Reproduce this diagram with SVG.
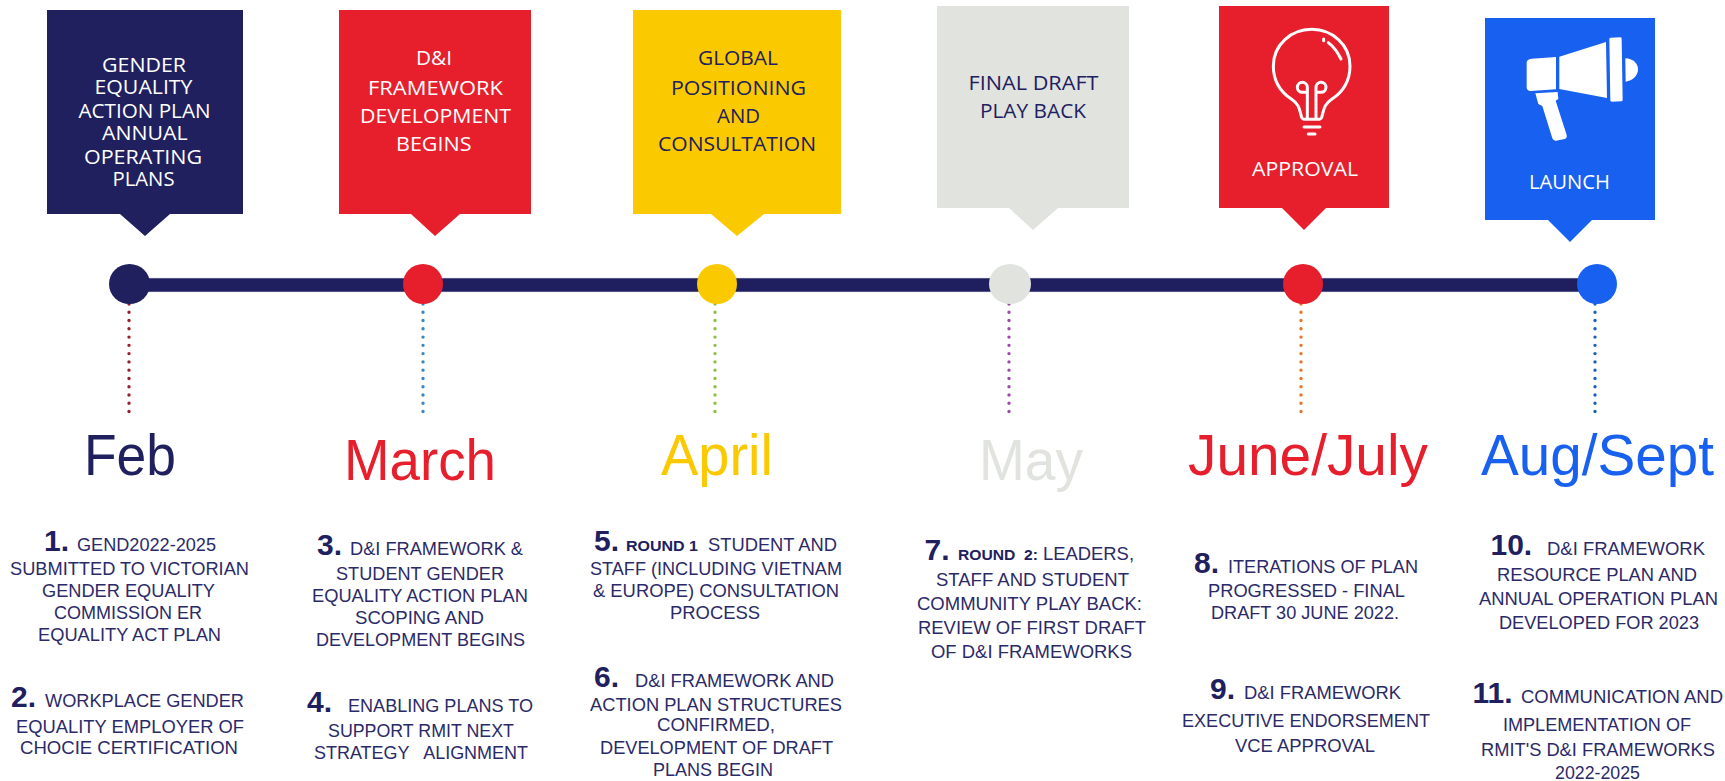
<svg xmlns="http://www.w3.org/2000/svg" width="1725" height="781" viewBox="0 0 1725 781">
<style>
text{white-space:pre}
.b{font-family:"Open Sans","Noto Sans",sans-serif;font-size:20.5px}
.w{fill:#ffffff}
.n{fill:#21205f}
.m{font-family:"Liberation Sans",Arial,sans-serif;font-size:57px}
.t{font-family:"Liberation Sans",Arial,sans-serif;font-size:18px;fill:#2b2a68}
.h{font-family:"Liberation Sans",Arial,sans-serif;font-size:30px;font-weight:700;fill:#21205f}
.r{font-family:"Liberation Sans",Arial,sans-serif;font-size:15px;font-weight:700;fill:#21205f}
.d{fill:none;stroke-width:3.4;stroke-linecap:round;stroke-dasharray:0 8.27}
.ic{fill:none;stroke:#ffffff;stroke-width:9;stroke-linecap:round;stroke-linejoin:round}
</style>
<g id="connectors">
<rect x="140" y="278.3" width="1450" height="13.4" fill="#1f1f60" stroke="#4f4f88" stroke-width="0.7"/>
<path class="d" stroke="#9b1c2e" d="M129 304V414"/>
<path class="d" stroke="#3a86c8" d="M423 304V414"/>
<path class="d" stroke="#8cc04a" d="M715 304V414"/>
<path class="d" stroke="#9b4aa8" d="M1009 304V414"/>
<path class="d" stroke="#ea7326" d="M1301 304V414"/>
<path class="d" stroke="#1f5fb8" d="M1595 304V414"/>
</g>
<g id="feb">
<path fill="#21205f" d="M47 10H243V214H170L145 236L120 214H47Z"/>
<g class="b w">
<text x="102" y="72" textLength="84" lengthAdjust="spacingAndGlyphs">GENDER</text>
<text x="94.5" y="94" textLength="98" lengthAdjust="spacingAndGlyphs">EQUALITY</text>
<text x="78.5" y="118" textLength="132" lengthAdjust="spacingAndGlyphs">ACTION PLAN</text>
<text x="102" y="140" textLength="85.5" lengthAdjust="spacingAndGlyphs">ANNUAL</text>
<text x="84" y="164" textLength="118" lengthAdjust="spacingAndGlyphs">OPERATING</text>
<text x="112.5" y="186" textLength="62" lengthAdjust="spacingAndGlyphs">PLANS</text>
</g>
<ellipse cx="129.5" cy="284" rx="20.5" ry="20" fill="#21205f"/>
<text class="m" x="84" y="475" fill="#21205f" textLength="92" lengthAdjust="spacingAndGlyphs">Feb</text>
<g id="item-1">
<text class="h" x="44" y="551">1.</text>
<text class="t" x="77" y="551" textLength="139" lengthAdjust="spacingAndGlyphs">GEND2022-2025</text>
<text class="t" x="10" y="575" textLength="239" lengthAdjust="spacingAndGlyphs">SUBMITTED TO VICTORIAN</text>
<text class="t" x="42" y="597" textLength="173" lengthAdjust="spacingAndGlyphs">GENDER EQUALITY</text>
<text class="t" x="54" y="619" textLength="148" lengthAdjust="spacingAndGlyphs">COMMISSION ER</text>
<text class="t" x="38" y="641" textLength="183" lengthAdjust="spacingAndGlyphs">EQUALITY ACT PLAN</text>
</g>
<g id="item-2">
<text class="h" x="11" y="707">2.</text>
<text class="t" x="45" y="707" textLength="199" lengthAdjust="spacingAndGlyphs">WORKPLACE GENDER</text>
<text class="t" x="16" y="733" textLength="228" lengthAdjust="spacingAndGlyphs">EQUALITY EMPLOYER OF</text>
<text class="t" x="20" y="754" textLength="218" lengthAdjust="spacingAndGlyphs">CHOCIE CERTIFICATION</text>
</g>
</g>
<g id="march">
<path fill="#e71f2c" d="M339 10H531V214H460L435 236L411 214H339Z"/>
<g class="b w">
<text x="416" y="65" textLength="36" lengthAdjust="spacingAndGlyphs">D&amp;I</text>
<text x="368" y="95" textLength="135" lengthAdjust="spacingAndGlyphs">FRAMEWORK</text>
<text x="360" y="123" textLength="151" lengthAdjust="spacingAndGlyphs">DEVELOPMENT</text>
<text x="396" y="151" textLength="75.5" lengthAdjust="spacingAndGlyphs">BEGINS</text>
</g>
<ellipse cx="423" cy="284" rx="20" ry="20" fill="#e71f2c"/>
<text class="m" x="344" y="480" fill="#e71f2c" textLength="152" lengthAdjust="spacingAndGlyphs">March</text>
<g id="item-3">
<text class="h" x="317" y="555">3.</text>
<text class="t" x="350" y="555" textLength="173" lengthAdjust="spacingAndGlyphs">D&amp;I FRAMEWORK &amp;</text>
<text class="t" x="336" y="580" textLength="168" lengthAdjust="spacingAndGlyphs">STUDENT GENDER</text>
<text class="t" x="312" y="602" textLength="216" lengthAdjust="spacingAndGlyphs">EQUALITY ACTION PLAN</text>
<text class="t" x="355" y="624" textLength="129" lengthAdjust="spacingAndGlyphs">SCOPING AND</text>
<text class="t" x="316" y="646" textLength="209" lengthAdjust="spacingAndGlyphs">DEVELOPMENT BEGINS</text>
</g>
<g id="item-4">
<text class="h" x="307" y="712">4.</text>
<text class="t" x="348" y="712" textLength="185" lengthAdjust="spacingAndGlyphs">ENABLING PLANS TO</text>
<text class="t" x="328" y="737" textLength="186" lengthAdjust="spacingAndGlyphs">SUPPORT RMIT NEXT</text>
<text class="t" x="314" y="759" textLength="214" lengthAdjust="spacingAndGlyphs">STRATEGY   ALIGNMENT</text>
</g>
</g>
<g id="april">
<path fill="#fbc900" d="M633 10H841V214H764L737 236L711 214H633Z"/>
<g class="b n">
<text x="698" y="65" textLength="80" lengthAdjust="spacingAndGlyphs">GLOBAL</text>
<text x="671" y="95" textLength="135" lengthAdjust="spacingAndGlyphs">POSITIONING</text>
<text x="717" y="123" textLength="43" lengthAdjust="spacingAndGlyphs">AND</text>
<text x="658" y="151" textLength="158" lengthAdjust="spacingAndGlyphs">CONSULTATION</text>
</g>
<ellipse cx="717" cy="284" rx="20" ry="20" fill="#fbc900"/>
<text class="m" x="661" y="475" fill="#fbc900" textLength="112" lengthAdjust="spacingAndGlyphs">April</text>
<g id="item-5">
<text class="h" x="594" y="551">5.</text>
<text class="r" x="626" y="551" textLength="72" lengthAdjust="spacingAndGlyphs">ROUND 1</text>
<text class="t" x="708" y="551" textLength="129" lengthAdjust="spacingAndGlyphs">STUDENT AND</text>
<text class="t" x="590" y="575" textLength="252" lengthAdjust="spacingAndGlyphs">STAFF (INCLUDING VIETNAM</text>
<text class="t" x="593" y="597" textLength="246" lengthAdjust="spacingAndGlyphs">&amp; EUROPE) CONSULTATION</text>
<text class="t" x="670" y="619" textLength="90" lengthAdjust="spacingAndGlyphs">PROCESS</text>
</g>
<g id="item-6">
<text class="h" x="594" y="687">6.</text>
<text class="t" x="635" y="687" textLength="199" lengthAdjust="spacingAndGlyphs">D&amp;I FRAMEWORK AND</text>
<text class="t" x="590" y="711" textLength="252" lengthAdjust="spacingAndGlyphs">ACTION PLAN STRUCTURES</text>
<text class="t" x="657" y="731" textLength="118" lengthAdjust="spacingAndGlyphs">CONFIRMED,</text>
<text class="t" x="600" y="754" textLength="233" lengthAdjust="spacingAndGlyphs">DEVELOPMENT OF DRAFT</text>
<text class="t" x="653" y="776" textLength="120" lengthAdjust="spacingAndGlyphs">PLANS BEGIN</text>
</g>
</g>
<g id="may">
<path fill="#e1e3df" d="M937 6H1129V208H1058L1033 230L1009 208H937Z"/>
<g class="b n">
<text x="968.5" y="90" textLength="130" lengthAdjust="spacingAndGlyphs">FINAL DRAFT</text>
<text x="980" y="118" textLength="106" lengthAdjust="spacingAndGlyphs">PLAY BACK</text>
</g>
<ellipse cx="1010" cy="284" rx="21" ry="20" fill="#e1e3df"/>
<text class="m" x="979" y="480" fill="#e1e3df" textLength="104" lengthAdjust="spacingAndGlyphs">May</text>
<g id="item-7">
<text class="h" x="924.5" y="560">7.</text>
<text class="r" x="958" y="560" textLength="80" lengthAdjust="spacingAndGlyphs">ROUND  2:</text>
<text class="t" x="1043" y="560" textLength="91" lengthAdjust="spacingAndGlyphs">LEADERS,</text>
<text class="t" x="936" y="586" textLength="193" lengthAdjust="spacingAndGlyphs">STAFF AND STUDENT</text>
<text class="t" x="917" y="610" textLength="225" lengthAdjust="spacingAndGlyphs">COMMUNITY PLAY BACK:</text>
<text class="t" x="918" y="634" textLength="228" lengthAdjust="spacingAndGlyphs">REVIEW OF FIRST DRAFT</text>
<text class="t" x="931" y="658" textLength="201" lengthAdjust="spacingAndGlyphs">OF D&amp;I FRAMEWORKS</text>
</g>
</g>
<g id="june-july">
<path fill="#e71f2c" d="M1219 6H1389V208H1326L1304 230L1282 208H1219Z"/>
<g transform="translate(1250 10) scale(0.3333)">
<path class="ic" d="M155 322C148 300 150 285 125 268C90 245 70 210 70 168C70 105 122 58 185 58C248 58 300 105 300 168C300 210 280 245 245 268C220 285 222 300 215 322Q212 328 205 328H165Q158 328 155 322Z"/>
<path class="ic" d="M172 325V232A15 15 0 1 0 157 247H172M198 325V232A15 15 0 1 1 213 247H198"/>
<path class="ic" d="M235 98Q258 116 273 147M221 87V92"/>
<path class="ic" d="M162 351H210" stroke-width="6"/>
<path class="ic" d="M175 372H195" stroke-width="10"/>
</g>
<text class="b w" x="1252" y="176" textLength="106" lengthAdjust="spacingAndGlyphs">APPROVAL</text>
<ellipse cx="1303" cy="284" rx="20" ry="20" fill="#e71f2c"/>
<text class="m" x="1188" y="475" fill="#e71f2c" textLength="240" lengthAdjust="spacingAndGlyphs">June/July</text>
<g id="item-8">
<text class="h" x="1194" y="573">8.</text>
<text class="t" x="1228" y="573" textLength="190" lengthAdjust="spacingAndGlyphs">ITERATIONS OF PLAN</text>
<text class="t" x="1208" y="597" textLength="197" lengthAdjust="spacingAndGlyphs">PROGRESSED - FINAL</text>
<text class="t" x="1211" y="619" textLength="188" lengthAdjust="spacingAndGlyphs">DRAFT 30 JUNE 2022.</text>
</g>
<g id="item-9">
<text class="h" x="1210" y="699">9.</text>
<text class="t" x="1244" y="699" textLength="157" lengthAdjust="spacingAndGlyphs">D&amp;I FRAMEWORK</text>
<text class="t" x="1182" y="727" textLength="248" lengthAdjust="spacingAndGlyphs">EXECUTIVE ENDORSEMENT</text>
<text class="t" x="1235" y="752" textLength="140" lengthAdjust="spacingAndGlyphs">VCE APPROVAL</text>
</g>
</g>
<g id="aug-sept">
<path fill="#1860f0" d="M1485 18H1655V220H1592L1570 242L1548 220H1485Z"/>
<g transform="translate(1510 30) scale(0.3333)" fill="#ffffff">
<path d="M65 86L138 81V178L62 183Q50 183 50 172V98Q50 87 65 86Z"/>
<path d="M148 80L288 36L291 204L148 177Z"/>
<path d="M298 27Q298 23 303 23L331 22Q335 22 335 26L338 210Q338 214 334 214L305 215Q301 215 301 211Z"/>
<path d="M346 85C368 85 384 100 384 118C384 138 368 152 347 155Z"/>
<path d="M76 190L143 186L145 207L137 212L170 315Q172 324 164 327L138 332Q130 333 127 325L97 228L85 222Z"/>
</g>
<text class="b w" x="1529" y="189" textLength="81" lengthAdjust="spacingAndGlyphs">LAUNCH</text>
<ellipse cx="1597" cy="284" rx="20" ry="20" fill="#1860f0"/>
<text class="m" x="1481" y="475" fill="#1860f0" textLength="233" lengthAdjust="spacingAndGlyphs">Aug/Sept</text>
<g id="item-10">
<text class="h" x="1490.5" y="555">10.</text>
<text class="t" x="1547" y="555" textLength="158" lengthAdjust="spacingAndGlyphs">D&amp;I FRAMEWORK</text>
<text class="t" x="1497" y="581" textLength="200" lengthAdjust="spacingAndGlyphs">RESOURCE PLAN AND</text>
<text class="t" x="1479" y="605" textLength="239" lengthAdjust="spacingAndGlyphs">ANNUAL OPERATION PLAN</text>
<text class="t" x="1499" y="629" textLength="200" lengthAdjust="spacingAndGlyphs">DEVELOPED FOR 2023</text>
</g>
<g id="item-11">
<text class="h" x="1472.5" y="703">11.</text>
<text class="t" x="1521" y="703" textLength="202" lengthAdjust="spacingAndGlyphs">COMMUNICATION AND</text>
<text class="t" x="1503" y="731" textLength="188" lengthAdjust="spacingAndGlyphs">IMPLEMENTATION OF</text>
<text class="t" x="1481" y="756" textLength="234" lengthAdjust="spacingAndGlyphs">RMIT'S D&amp;I FRAMEWORKS</text>
<text class="t" x="1555" y="779" textLength="85" lengthAdjust="spacingAndGlyphs">2022-2025</text>
</g>
</g>
</svg>
